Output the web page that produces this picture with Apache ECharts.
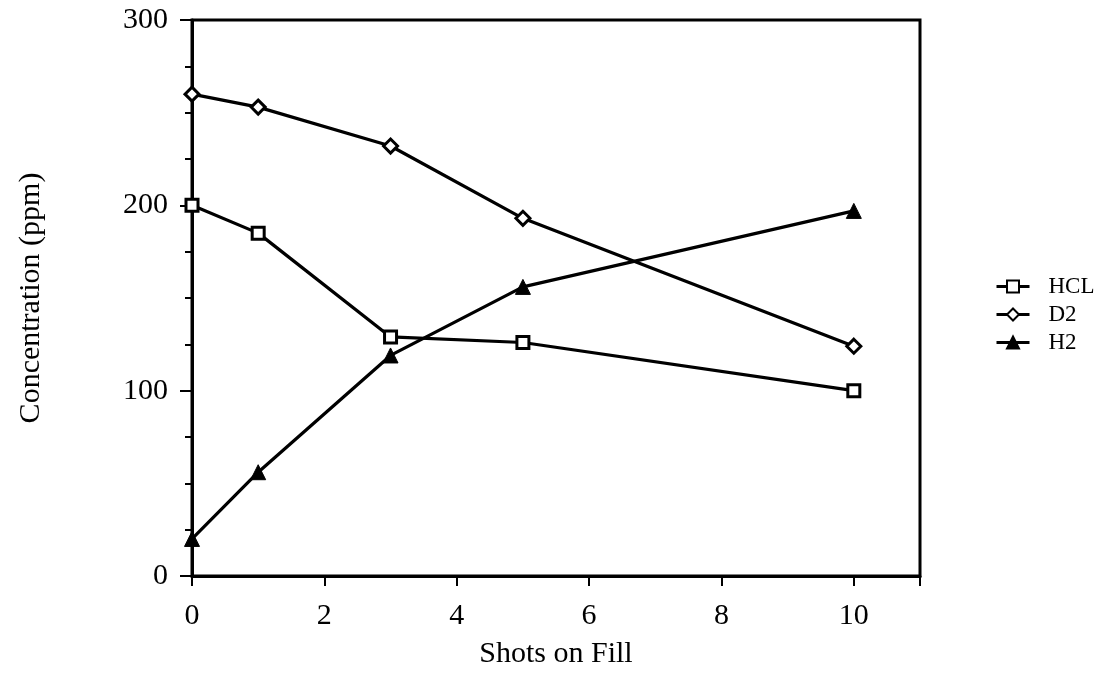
<!DOCTYPE html>
<html>
<head>
<meta charset="utf-8">
<script src="https://cdn.jsdelivr.net/npm/echarts@6/dist/echarts.min.js"></script>
<style>
  html, body { margin: 0; padding: 0; background: #fff; }
  #chart { width: 1103px; height: 698px; }
</style>
</head>
<body>
<div id="chart"></div>
<script>
// Gas concentration versus number of shots on the same fill
var shots = [0, 1, 3, 5, 10];
var hcl = [200, 185, 129, 126, 100];
var d2 = [260, 253, 232, 193, 124];
var h2 = [20, 56, 119, 156, 197];
var seriesNames = ['HCL', 'D2', 'H2'];
var xTitle = 'Shots on Fill';
var yTitle = 'Concentration (ppm)';

var FONT = '"Liberation Serif", "Times New Roman", serif';

function pairs(xs, ys) {
  return xs.map(function (x, i) { return [x, ys[i]]; });
}

var chart = echarts.init(document.getElementById('chart'), null, { renderer: 'canvas' });

var baseLine = { color: '#000', width: 3.2 };

chart.setOption({
  animation: false,
  backgroundColor: '#fff',
  grid: {
    left: 192, top: 20, right: 183, bottom: 122,
    show: true, borderColor: '#000', borderWidth: 3, backgroundColor: 'transparent'
  },
  legend: {
    orient: 'vertical',
    left: 990,
    top: 270,
    itemWidth: 33,
    itemHeight: 15,
    itemGap: 5,
    data: seriesNames,
    lineStyle: { width: 3, color: '#000' },
    textStyle: { fontFamily: FONT, fontSize: 23, color: '#000', lineHeight: 23, padding: [0, 0, 0, 14] }
  },
  xAxis: {
    type: 'value',
    min: 0, max: 11, interval: 2,
    name: xTitle,
    nameLocation: 'middle',
    nameGap: 63,
    nameTextStyle: { fontFamily: FONT, fontSize: 30, color: '#000' },
    axisLine: { show: true, lineStyle: { color: '#000', width: 3 } },
    axisTick: { show: true, inside: false, length: 10, lineStyle: { color: '#000', width: 2 } },
    minorTick: { show: false },
    splitLine: { show: false },
    axisLabel: { fontFamily: FONT, fontSize: 30, color: '#000', margin: 25,
      formatter: function (v) { return v > 10 ? '' : String(v); } }
  },
  yAxis: {
    type: 'value',
    min: 0, max: 300, interval: 100,
    name: yTitle,
    nameLocation: 'middle',
    nameGap: 146,
    nameRotate: 90,
    nameTextStyle: { fontFamily: FONT, fontSize: 30, color: '#000' },
    axisLine: { show: true, lineStyle: { color: '#000', width: 3 } },
    axisTick: { show: true, inside: false, length: 12, lineStyle: { color: '#000', width: 2 } },
    minorTick: { show: true, splitNumber: 4, length: 7, lineStyle: { color: '#000', width: 2 } },
    splitLine: { show: false },
    axisLabel: { fontFamily: FONT, fontSize: 30, color: '#000', margin: 24 }
  },
  series: [
    {
      name: seriesNames[0], type: 'line', data: pairs(shots, hcl),
      symbol: 'rect', symbolSize: 12,
      itemStyle: { color: '#fff', borderColor: '#000', borderWidth: 3 },
      lineStyle: baseLine, z: 3
    },
    {
      name: seriesNames[1], type: 'line', data: pairs(shots, d2),
      symbol: 'diamond', symbolSize: 14,
      itemStyle: { color: '#fff', borderColor: '#000', borderWidth: 3 },
      lineStyle: baseLine, z: 3
    },
    {
      name: seriesNames[2], type: 'line', data: pairs(shots, h2),
      symbol: 'triangle', symbolSize: 15,
      itemStyle: { color: '#000', borderColor: '#000', borderWidth: 1 },
      lineStyle: baseLine, z: 4
    }
  ]
});
</script>
</body>
</html>
